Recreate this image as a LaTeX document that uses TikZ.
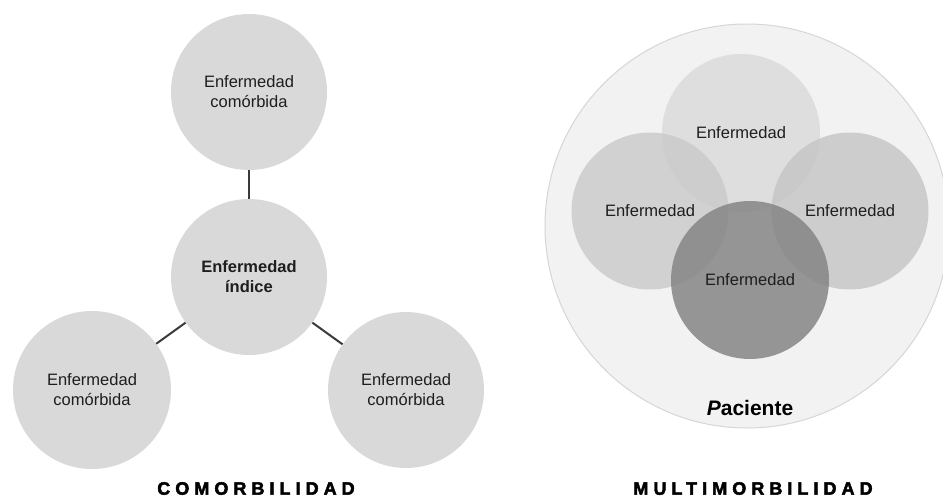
\documentclass[tikz,border=0pt]{standalone}
\usepackage{fontspec}
\setmainfont{Liberation Sans}
\newfontfamily\titlefont[LetterSpace=28,FakeBold=2.6]{Liberation Sans}
\definecolor{txt}{HTML}{1E1E1E}
\definecolor{circfill}{HTML}{D9D9D9}
\definecolor{linec}{HTML}{3A3A3A}
\definecolor{patfill}{HTML}{F2F2F2}
\definecolor{patline}{HTML}{D6D6D6}
\tikzset{
  disc/.style={circle, fill=circfill, minimum size=#1, inner sep=0pt, text=txt, align=center,
    font=\fontsize{16.5}{20}\selectfont},
  link/.style={draw=linec, line width=2pt},
  ovl/.style={circle, inner sep=0pt, minimum size=#1},
  lbl/.style={text=txt, font=\fontsize{16.5}{20}\selectfont},
  title/.style={text=black, inner sep=1pt, font=\titlefont\bfseries\fontsize{18}{20}\selectfont}
}
\begin{document}
\begin{tikzpicture}[x=1pt,y=-1pt]
\clip (0,0) rectangle (943,498);
\fill[white] (0,0) rectangle (943,498);
% ---- COMORBILIDAD ----
\node[disc=156pt] (top) at (249,92) {Enfermedad\\comórbida};
\node[disc=156pt] (idx) at (249,277) {\bfseries Enfermedad\\\bfseries índice};
\node[disc=158pt] (lft) at (92,390) {Enfermedad\\comórbida};
\node[disc=156pt] (rgt) at (406,390) {Enfermedad\\comórbida};
\draw[link] (top) -- (idx);
\draw[link] (idx) -- (lft);
\draw[link] (idx) -- (rgt);
\node[title] (t1) at (256,488.5) {COMORBILIDAD};
% ---- MULTIMORBILIDAD ----
\node[ovl=404pt, fill=patfill, draw=patline, line width=1pt] (pat) at (747,226) {};
\node[ovl=158pt, fill=circfill, fill opacity=0.8] (ct) at (741,133) {};
\node[ovl=157pt, fill=black!21, fill opacity=0.8] (cl) at (650,211) {};
\node[ovl=157pt, fill=black!23, fill opacity=0.8] (cr) at (850,211) {};
\node[ovl=158pt, fill=black!48, fill opacity=0.85] (cb) at (750,280) {};
\node[lbl] at (ct.center) {Enfermedad};
\node[lbl] at (cl.center) {Enfermedad};
\node[lbl] at (cr.center) {Enfermedad};
\node[lbl] at (cb.center) {Enfermedad};
\node[text=black, font=\bfseries\fontsize{21}{24}\selectfont] (pac) at (750,408) {\textit{P}aciente};
\node[title] (t2) at (753,488.5) {MULTIMORBILIDAD};
\end{tikzpicture}
\end{document}
